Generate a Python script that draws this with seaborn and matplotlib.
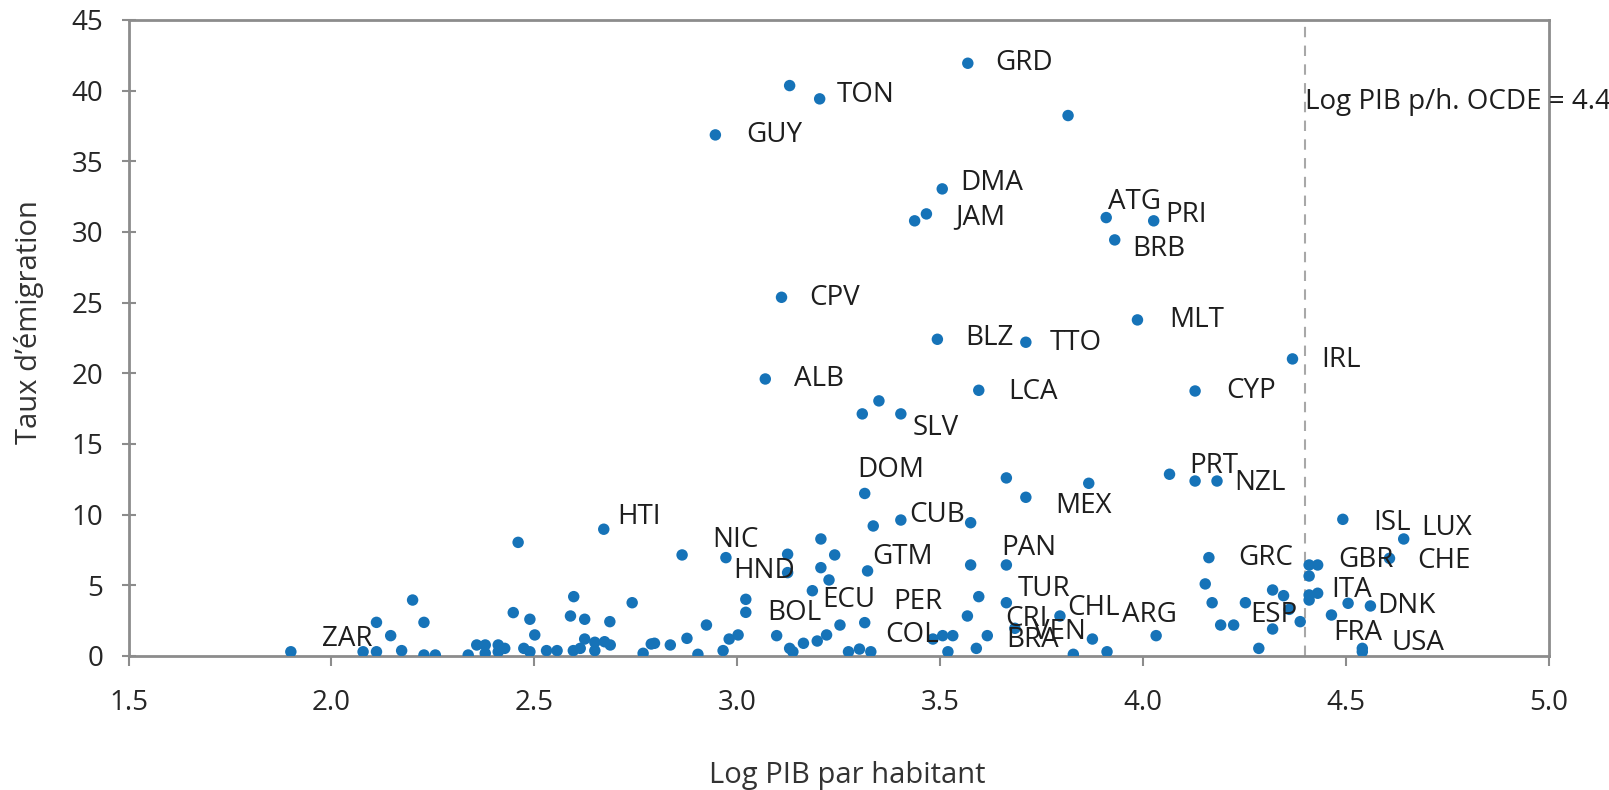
import matplotlib
matplotlib.use('Agg')
import matplotlib.pyplot as plt
import seaborn as sns
import pandas as pd
import numpy as np

sns.set_theme(style='white')
plt.rcParams['font.family'] = ['Open Sans', 'DejaVu Sans']

# Log PIB par habitant (x) et taux d'émigration (y), code pays ('' = sans étiquette)
log_pib = [
    3.568, 3.129, 3.203, 2.946, 3.815, 3.505, 3.466, 3.437, 3.909, 4.026,
    3.930, 3.109, 3.493, 3.711, 3.986, 4.368, 3.069, 3.595, 4.128, 3.349,
    3.308, 3.403,
    3.314, 3.663, 3.711, 3.866, 4.065, 4.128, 4.182, 4.492, 3.403, 3.335,
    3.575, 2.671, 4.642, 2.460, 3.206,
    1.900, 2.078, 2.111, 2.111, 2.146, 2.173, 2.200, 2.228, 2.228, 2.256,
    2.337, 2.358, 2.379, 2.379, 2.411, 2.411, 2.427, 2.448, 2.474, 2.489,
    2.489, 2.501, 2.530, 2.556, 2.589, 2.597, 2.596, 2.613, 2.624, 2.624,
    2.649, 2.649,
    2.686, 2.673, 2.687, 2.741, 2.768, 2.788, 2.796, 2.835, 2.864, 2.876,
    2.903, 2.924, 2.965, 2.972, 2.980, 3.002, 3.021, 3.021, 3.097, 3.124,
    3.124, 3.129, 3.137, 3.163, 3.185, 3.197, 3.206, 3.220, 3.226, 3.240,
    3.253, 3.274, 3.301, 3.314, 3.329, 3.321, 3.482, 3.506, 3.531, 3.519,
    3.567, 3.575, 3.589, 3.595, 3.616, 3.663, 3.663, 3.684, 3.795, 3.828,
    3.875, 3.911, 4.032, 4.162, 4.153, 4.170, 4.191, 4.223, 4.252, 4.285,
    4.319, 4.319, 4.346, 4.360, 4.387, 4.409, 4.409, 4.409, 4.409, 4.430,
    4.430, 4.464, 4.505, 4.540, 4.540, 4.560, 4.607,
]
taux = [
    41.94, 40.36, 39.42, 36.87, 38.24, 33.05, 31.28, 30.79, 31.02, 30.79,
    29.44, 25.38, 22.41, 22.20, 23.78, 21.02, 19.60, 18.80, 18.75, 18.05,
    17.13, 17.13,
    11.50, 12.60, 11.23, 12.22, 12.86, 12.38, 12.38, 9.67, 9.62, 9.20,
    9.43, 8.97, 8.28, 8.04, 8.28,
    0.30, 0.30, 2.38, 0.30, 1.44, 0.38, 3.96, 2.38, 0.07, 0.07,
    0.07, 0.78, 0.78, 0.19, 0.78, 0.30, 0.54, 3.07, 0.54, 2.60,
    0.30, 1.49, 0.38, 0.38, 2.83, 4.20, 0.38, 0.54, 2.60, 1.20,
    0.97, 0.38,
    2.43, 1.01, 0.78, 3.77, 0.19, 0.85, 0.90, 0.78, 7.15, 1.25,
    0.12, 2.19, 0.38, 6.96, 1.20, 1.49, 4.01, 3.09, 1.44, 7.20,
    5.90, 0.54, 0.30, 0.90, 4.62, 1.06, 6.25, 1.49, 5.38, 7.15,
    2.19, 0.30, 0.49, 2.36, 0.30, 6.02, 1.20, 1.44, 1.44, 0.30,
    2.83, 6.44, 0.54, 4.20, 1.44, 6.44, 3.77, 1.96, 2.83, 0.12,
    1.20, 0.30, 1.44, 6.96, 5.10, 3.77, 2.19, 2.19, 3.77, 0.54,
    4.67, 1.91, 4.27, 3.30, 2.43, 6.44, 5.66, 4.32, 3.96, 6.44,
    4.44, 2.90, 3.73, 0.54, 0.30, 3.54, 6.91,
]
pays = [
    'GRD', '', 'TON', 'GUY', '', 'DMA', 'JAM', '', 'ATG', 'PRI',
    'BRB', 'CPV', 'BLZ', 'TTO', 'MLT', 'IRL', 'ALB', 'LCA', 'CYP', '',
    '', 'SLV',
    'DOM', '', 'MEX', '', 'PRT', '', 'NZL', 'ISL', 'CUB', '',
    '', 'HTI', 'LUX', '', '',
    'ZAR', '', '', '', '', '', '', '', '', '',
    '', '', '', '', '', '', '', '', '', '',
    '', '', '', '', '', '', '', '', '', '',
    '', '',
    '', '', '', '', '', '', '', '', '', '',
    '', '', '', 'NIC', '', '', '', 'BOL', '', '',
    'HND', '', '', '', 'ECU', '', '', '', '', '',
    '', '', '', 'PER', '', 'GTM', 'COL', '', '', '',
    '', '', 'BRA', '', 'CRI', 'PAN', 'TUR', 'VEN', 'CHL', '',
    '', '', 'ARG', 'GRC', '', '', '', '', 'ESP', '',
    '', '', '', '', '', '', '', '', '', 'GBR',
    'ITA', 'FRA', '', 'USA', '', 'DNK', 'CHE',
]

df = pd.DataFrame({'log_pib': log_pib, 'taux': taux, 'pays': pays})

# décalage des étiquettes (pixels, depuis le point vers le bord gauche du texte)
decalage = {
    'GRD': (27, 0), 'TON': (17, 4), 'GUY': (31, 0), 'DMA': (18, 6), 'JAM': (29, -3),
    'ATG': (2, 16), 'PRI': (12, 6), 'BRB': (18, -9), 'CPV': (28, -1), 'BLZ': (28, 1),
    'TTO': (24, -1), 'MLT': (32, 0), 'IRL': (29, -1), 'ALB': (29, 0), 'LCA': (29, -2),
    'CYP': (31, 0), 'SLV': (12, -14), 'DOM': (-7, 23), 'MEX': (29, -9), 'PRT': (20, 8),
    'NZL': (17, -2), 'ISL': (30, -4), 'CUB': (8, 5), 'HTI': (13, 12), 'LUX': (18, 11),
    'ZAR': (31, 13), 'NIC': (-14, 18), 'BOL': (21, -1), 'HND': (-54, 2), 'ECU': (10, -9),
    'PER': (29, 21), 'GTM': (5, 14), 'COL': (-48, 4), 'BRA': (30, 8), 'CRI': (18, 17),
    'PAN': (-5, 17), 'TUR': (11, 14), 'VEN': (18, -4), 'CHL': (7, 8), 'ARG': (-34, 21),
    'GRC': (29, 0), 'ESP': (5, -12), 'GBR': (21, 5), 'ITA': (14, 3), 'FRA': (2, -18),
    'USA': (29, 5), 'DNK': (7, 0), 'CHE': (28, -3),
}

gris = '#8c8c8c'
bleu = '#1673b8'
texte = '#1e1e1e'

fig = plt.figure(figsize=(16.09, 7.90), dpi=100)
ax = fig.add_axes([128.5 / 1609, 1 - 656 / 790, 1420.5 / 1609, 636 / 790])

sns.scatterplot(data=df, x='log_pib', y='taux', color=bleu, s=68,
                edgecolor='none', linewidth=0, ax=ax, legend=False, zorder=3)

for _, r in df[df['pays'] != ''].iterrows():
    dx, dy = decalage[r['pays']]
    ax.annotate(r['pays'], (r['log_pib'], r['taux']), xytext=(dx, dy),
                textcoords='offset pixels', ha='left', va='center',
                fontsize=20, color=texte, zorder=4)

# ligne OCDE
ax.axvline(4.4, color='#a8a8a8', lw=1.5, ls=(0, (5, 4)), zorder=2)
ax.text(4.4, 39.2, 'Log PIB p/h. OCDE = 4.4', ha='left', va='center',
        fontsize=20, color=texte, clip_on=False)

ax.set_xlim(1.5, 5.0)
ax.set_ylim(0, 45)
ax.set_xticks(np.arange(1.5, 5.01, 0.5))
ax.set_xticklabels([f'{v:.1f}' for v in np.arange(1.5, 5.01, 0.5)])
ax.set_yticks(range(0, 46, 5))

for s in ax.spines.values():
    s.set_visible(True)
    s.set_color(gris)
    s.set_linewidth(2)

ax.tick_params(axis='x', direction='out', length=7, width=1.5, color=gris,
               labelsize=20, labelcolor='#262626', pad=17, bottom=True)
ax.tick_params(axis='y', direction='inout', length=10, width=1.5, color=gris,
               labelsize=20, labelcolor='#262626', pad=13, left=True)

ax.set_xlabel('')
ax.set_ylabel('')
fig.text(847 / 1609, 1 - 776 / 790, 'Log PIB par habitant', ha='center', va='center',
         fontsize=21, color='#333333')
fig.text(29 / 1609, 1 - 322 / 790, 'Taux d’émigration', ha='center', va='center',
         rotation=90, fontsize=21, color='#333333')

fig.savefig('out.png', dpi=100, facecolor='white')
